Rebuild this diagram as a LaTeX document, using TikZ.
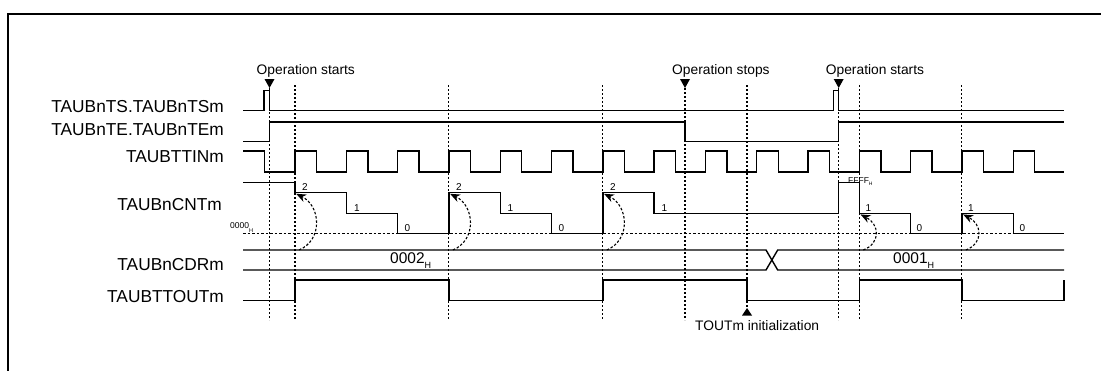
\documentclass[tikz,border=0pt]{standalone}
\usepackage{fontspec}
\setmainfont{Liberation Sans}
\usetikzlibrary{arrows.meta}
\begin{document}
\begin{tikzpicture}[x=1pt,y=-1pt,
  sig/.style={line width=1.4pt, line join=miter},
  vdot/.style={line width=1.1pt, dash pattern=on 2pt off 2pt},
  hdot/.style={line width=1.1pt, dash pattern=on 2.5pt off 2pt},
  cyc/.style={line width=1.1pt, dash pattern=on 2.5pt off 1.8pt, -{Stealth[length=10pt,width=8pt]}},
  siglabel/.style={anchor=base east, inner sep=0pt, font=\fontsize{17.3}{20}\selectfont},
  evt/.style={anchor=base west, inner sep=0pt, font=\fontsize{13.8}{16}\selectfont},
  cntlbl/.style={anchor=base west, inner sep=0pt, font=\fontsize{10}{12}\selectfont},
  frame/.style={line width=1.8pt}
]
\useasboundingbox (0,0) rectangle (1101,370);
\fill[white] (0,0) rectangle (1101,370);

% frame
\draw[frame] (8,372) -- (8,14) -- (1103,14);

% signal labels
\node[siglabel] (lTS)   at (224,112.5) {TAUBnTS.TAUBnTSm};
\node[siglabel] (lTE)   at (224,135.2) {TAUBnTE.TAUBnTEm};
\node[siglabel] (lTIN)  at (224,162.7) {TAUBTTINm};
\node[siglabel] (lCNT)  at (222,210.7) {TAUBnCNTm};
\node[siglabel] (lCDR)  at (224,270.7) {TAUBnCDRm};
\node[siglabel] (lTOUT) at (224,302.7) {TAUBTTOUTm};

% horizontal zero reference line
\draw[hdot] (243,233.3) -- (1064,233.3);

% vertical dotted lines
\foreach \x in {269.5,685,838.7} \draw[vdot] (\x,88) -- (\x,320);
\foreach \x in {295,448.9,602.8,859.3,961.9} \draw[vdot] (\x,85) -- (\x,320);
\draw[vdot] (747,85) -- (747,308);

% event markers
\foreach \x in {269.5,685,838.7} \fill (\x-5,79) -- (\x+5,79) -- (\x,88) -- cycle;
\fill (747,308) -- (752,315.5) -- (742,315.5) -- cycle;
\node[evt] (os1) at (256.5,74.3) {Operation starts};
\node[evt] (ost) at (672,74.3) {Operation stops};
\node[evt] (os2) at (825.7,74.3) {Operation starts};
\node[evt] (tin) at (695,330.5) {TOUTm initialization};

% TS
\draw[sig] (243,110.5) -- (264,110.5) -- (264,90.7) -- (269.5,90.7) -- (269.5,110.5)
  -- (833.3,110.5) -- (833.3,90.7) -- (838.7,90.7) -- (838.7,110.5) -- (1064,110.5);
% TE
\draw[sig] (243,141.5) -- (269.5,141.5) -- (269.5,122) -- (685,122) -- (685,141.5)
  -- (838.7,141.5) -- (838.7,122) -- (1064,122);
% TTIN
\draw[sig] (243,151) -- (264.5,151) -- (264.5,172)
  \foreach \k in {0,...,14} { -- ({295+51.3*\k},172) -- ({295+51.3*\k},151)
     -- ({316.5+51.3*\k},151) -- ({316.5+51.3*\k},172) } -- (1064,172);
% CNT
\draw[sig] (243,182.7) -- (295,182.7) -- (295,192.7) -- (346.3,192.7) -- (346.3,213.3)
  -- (397.6,213.3) -- (397.6,233.3) -- (448.9,233.3) -- (448.9,192.7) -- (500.2,192.7)
  -- (500.2,213.3) -- (551.5,213.3) -- (551.5,233.3) -- (602.8,233.3) -- (602.8,192.7)
  -- (654.1,192.7) -- (654.1,213.3) -- (838.7,213.3) -- (838.7,182.7) -- (859.3,182.7)
  -- (859.3,213.3) -- (910.6,213.3) -- (910.6,233.3) -- (961.9,233.3) -- (961.9,213.3)
  -- (1013.2,213.3) -- (1013.2,233.3) -- (1064,233.3);
% count values
\node[cntlbl] (c2a) at (302,190.8) {2};
\node[cntlbl] (c1a) at (354,211.3) {1};
\node[cntlbl] (c0a) at (404.5,231.3) {0};
\node[cntlbl] (c2b) at (456,190.8) {2};
\node[cntlbl] (c1b) at (507.5,211.3) {1};
\node[cntlbl] (c0b) at (558.5,231.3) {0};
\node[cntlbl] (c2c) at (610,190.8) {2};
\node[cntlbl] (c1c) at (661.5,211.3) {1};
\node[cntlbl] (c1d) at (865.5,211.3) {1};
\node[cntlbl] (c0d) at (916.5,231.3) {0};
\node[cntlbl] (c1e) at (968,211.3) {1};
\node[cntlbl] (c0e) at (1019.5,231.3) {0};
\node[anchor=base west, inner sep=0pt, font=\fontsize{8.5}{9}\selectfont] (z0) at (230,228.3)
  {0000\raisebox{-4pt}{\fontsize{5.5}{6}\selectfont H}};
\node[anchor=base west, inner sep=0pt, font=\fontsize{8.5}{9}\selectfont] (ff) at (848,183.3)
  {FFFF\raisebox{-2.5pt}{\fontsize{5}{6}\selectfont H}};

% reload arrows
\foreach \x in {295,448.9,602.8}
  \draw[cyc] (\x+4,250) .. controls (\x+28,240) and (\x+26,206) .. (\x+1.2,193.8);
\foreach \x in {859.3,961.9}
  \draw[cyc] (\x+4,250) .. controls (\x+22,243) and (\x+20,224) .. (\x+1.2,214.4);

% CDR
\draw[sig] (243,250) -- (766,250) -- (777.7,270) -- (1064,270);
\draw[sig] (243,270) -- (766,270) -- (777.7,250) -- (1064,250);
\node[anchor=base west, inner sep=0pt, font=\fontsize{15.5}{17}\selectfont] (d2) at (390,263.3)
  {0002\raisebox{-5.5pt}{\fontsize{9}{10}\selectfont H}};
\node[anchor=base west, inner sep=0pt, font=\fontsize{15.5}{17}\selectfont] (d1) at (893,263.3)
  {0001\raisebox{-5.5pt}{\fontsize{9}{10}\selectfont H}};

% TOUT
\draw[sig] (243,300.7) -- (295,300.7) -- (295,280) -- (448.9,280) -- (448.9,300.7)
  -- (602.8,300.7) -- (602.8,280) -- (747,280) -- (747,300.7) -- (859.3,300.7)
  -- (859.3,280) -- (961.9,280) -- (961.9,300.7) -- (1064,300.7) -- (1064,280);
\end{tikzpicture}
\end{document}
